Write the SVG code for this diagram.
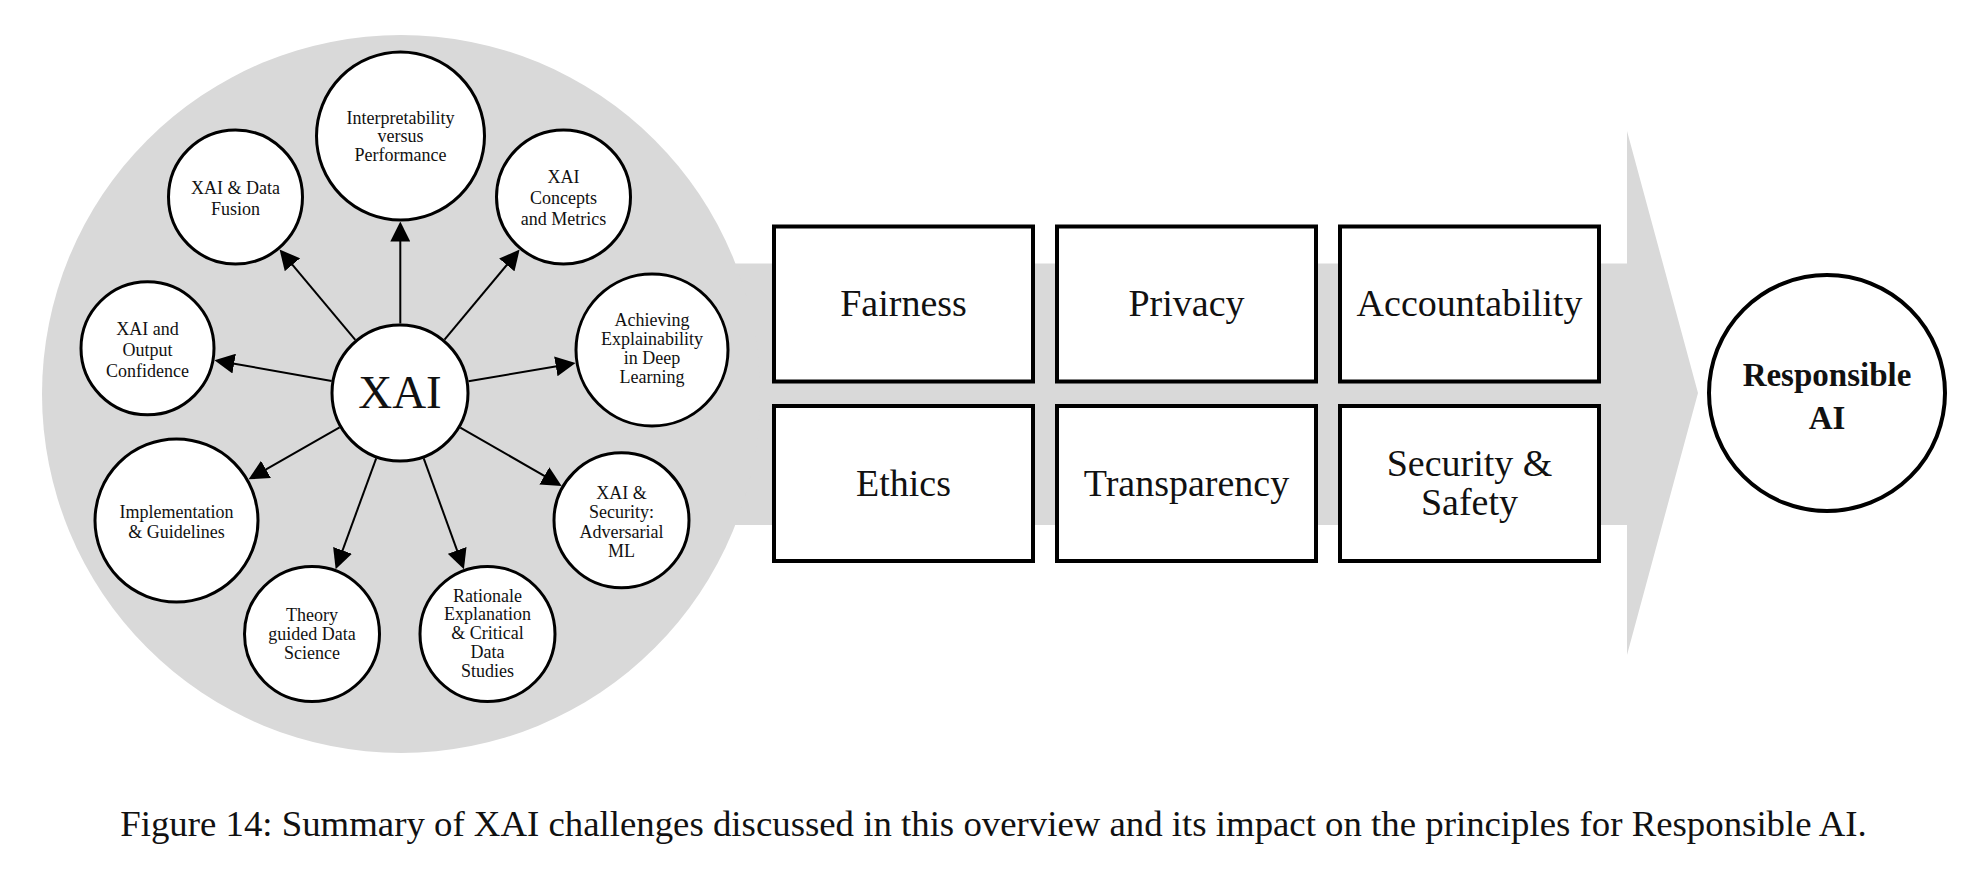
<svg xmlns="http://www.w3.org/2000/svg" width="1982" height="878" viewBox="0 0 1982 878">
<defs>
<style>
.bg{fill:#d9d9d9;stroke:none}
.sat{fill:#fff;stroke:#000;stroke-width:3}
.box{fill:#fff;stroke:#000;stroke-width:4}
.t{font-family:"Liberation Serif","Times New Roman",serif;fill:#111;text-anchor:middle}
.s{font-size:18px}
.b{font-size:38px}
.conn line{stroke:#000;stroke-width:2;marker-end:url(#ah)}
</style>
<marker id="ah" viewBox="0 0 20 20" refX="10" refY="10" markerWidth="20" markerHeight="20" markerUnits="userSpaceOnUse" orient="auto">
<path d="M0,0 L20,10 L0,20 Z" fill="#000"/>
</marker>
</defs>
<rect width="1982" height="878" fill="#fff"/>
<g id="background">
<polygon class="bg" points="600,263.5 1627,263.5 1627,131 1698,393 1627,655 1627,525 600,525"/>
<circle class="bg" cx="401" cy="394" r="359"/>
</g>
<g id="connectors" class="conn">
<line x1="400.3" y1="323.5" x2="400.3" y2="231.5"/>
<line x1="355.3" y1="339.8" x2="286.0" y2="257.1"/>
<line x1="444.5" y1="339.6" x2="513.2" y2="257.3"/>
<line x1="331.6" y1="380.9" x2="224.3" y2="361.9"/>
<line x1="468.5" y1="381.3" x2="565.7" y2="364.7"/>
<line x1="339.6" y1="427.4" x2="257.3" y2="474.4"/>
<line x1="460.3" y1="427.6" x2="553.0" y2="480.9"/>
<line x1="376.2" y1="458.3" x2="339.1" y2="559.8"/>
<line x1="423.7" y1="458.3" x2="460.5" y2="559.8"/>
</g>
<g id="xai">
<circle class="sat" cx="400" cy="393" r="68"/>
<text class="t" x="400" y="408" font-size="47">XAI</text>
</g>
<g id="interp">
<circle class="sat" cx="400.5" cy="136" r="84"/>
<text class="t s" x="400.5" y="124">Interpretability</text>
<text class="t s" x="400.5" y="142.3">versus</text>
<text class="t s" x="400.5" y="160.6">Performance</text>
</g>
<g id="fusion">
<circle class="sat" cx="235.5" cy="197" r="67"/>
<text class="t s" x="235.5" y="193.5">XAI &amp; Data</text>
<text class="t s" x="235.5" y="215">Fusion</text>
</g>
<g id="concepts">
<circle class="sat" cx="563.5" cy="197" r="67"/>
<text class="t s" x="563.5" y="182.5">XAI</text>
<text class="t s" x="563.5" y="203.5">Concepts</text>
<text class="t s" x="563.5" y="224.5">and Metrics</text>
</g>
<g id="confidence">
<circle class="sat" cx="147.5" cy="348.3" r="66.5"/>
<text class="t s" x="147.5" y="335">XAI and</text>
<text class="t s" x="147.5" y="355.8">Output</text>
<text class="t s" x="147.5" y="376.6">Confidence</text>
</g>
<g id="achieving">
<circle class="sat" cx="652" cy="350" r="76"/>
<text class="t s" x="652" y="325.7">Achieving</text>
<text class="t s" x="652" y="344.8">Explainability</text>
<text class="t s" x="652" y="363.9">in Deep</text>
<text class="t s" x="652" y="383">Learning</text>
</g>
<g id="implementation">
<circle class="sat" cx="176.5" cy="520.5" r="81.5"/>
<text class="t s" x="176.5" y="517.7">Implementation</text>
<text class="t s" x="176.5" y="537.7">&amp; Guidelines</text>
</g>
<g id="security">
<circle class="sat" cx="621.5" cy="520.3" r="67.5"/>
<text class="t s" x="621.5" y="499">XAI &amp;</text>
<text class="t s" x="621.5" y="518.3">Security:</text>
<text class="t s" x="621.5" y="537.6">Adversarial</text>
<text class="t s" x="621.5" y="556.9">ML</text>
</g>
<g id="theory">
<circle class="sat" cx="312" cy="634" r="67.5"/>
<text class="t s" x="312" y="621">Theory</text>
<text class="t s" x="312" y="640">guided Data</text>
<text class="t s" x="312" y="659">Science</text>
</g>
<g id="rationale">
<circle class="sat" cx="487.5" cy="634" r="67.5"/>
<text class="t s" x="487.5" y="601.7">Rationale</text>
<text class="t s" x="487.5" y="620.4">Explanation</text>
<text class="t s" x="487.5" y="639.1">&amp; Critical</text>
<text class="t s" x="487.5" y="657.8">Data</text>
<text class="t s" x="487.5" y="676.5">Studies</text>
</g>
<g id="fairness">
<rect class="box" x="774" y="226.5" width="259" height="155"/>
<text class="t b" x="903.5" y="316">Fairness</text>
</g>
<g id="privacy">
<rect class="box" x="1057" y="226.5" width="259" height="155"/>
<text class="t b" x="1186.5" y="316">Privacy</text>
</g>
<g id="accountability">
<rect class="box" x="1340" y="226.5" width="259" height="155"/>
<text class="t b" x="1469.5" y="316">Accountability</text>
</g>
<g id="ethics">
<rect class="box" x="774" y="406" width="259" height="155"/>
<text class="t b" x="903.5" y="496">Ethics</text>
</g>
<g id="transparency">
<rect class="box" x="1057" y="406" width="259" height="155"/>
<text class="t b" x="1186.5" y="496">Transparency</text>
</g>
<g id="security-safety">
<rect class="box" x="1340" y="406" width="259" height="155"/>
<text class="t b" x="1469.5" y="475.5">Security &amp;</text>
<text class="t b" x="1469.5" y="515">Safety</text>
</g>
<g id="responsible">
<circle cx="1827" cy="393" r="118" fill="#fff" stroke="#000" stroke-width="4"/>
<text class="t" x="1827" y="386" font-size="33" font-weight="bold">Responsible</text>
<text class="t" x="1827" y="429" font-size="33" font-weight="bold">AI</text>
</g>
<text class="t" x="993.5" y="836" font-size="36.8">Figure 14: Summary of XAI challenges discussed in this overview and its impact on the principles for Responsible AI.</text>
</svg>
